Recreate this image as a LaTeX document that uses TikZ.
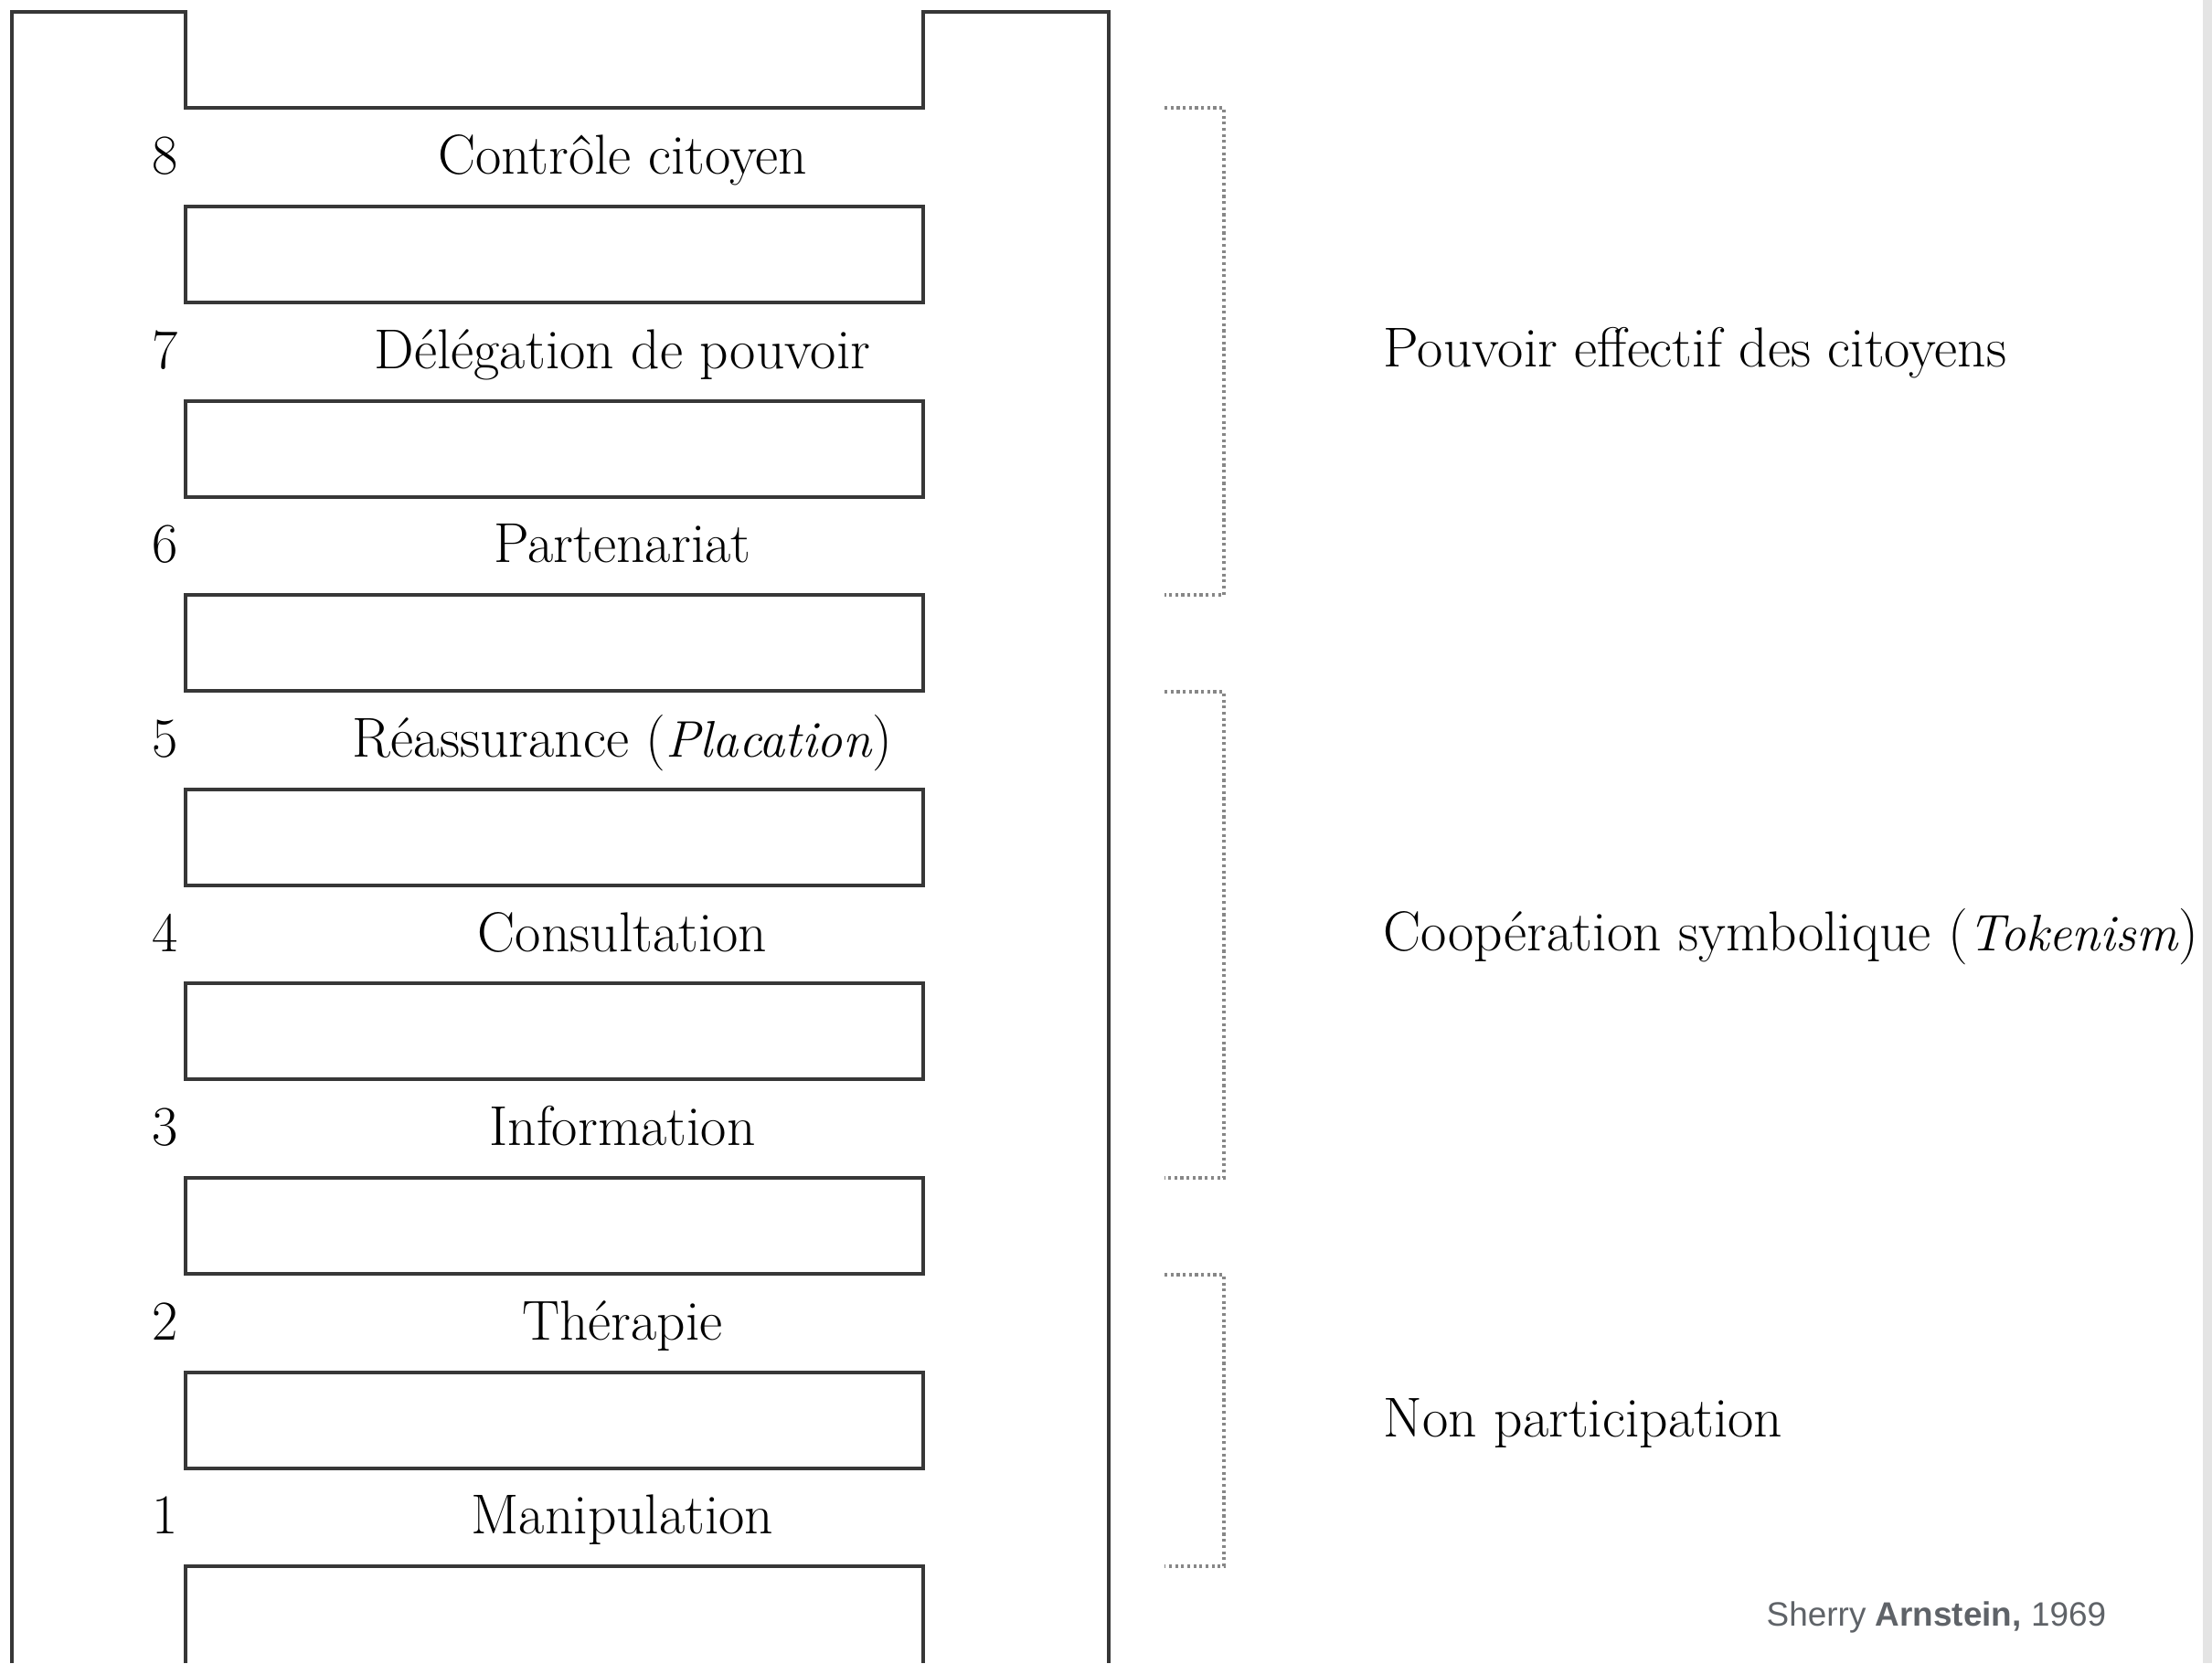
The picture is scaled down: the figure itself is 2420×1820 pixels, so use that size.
\documentclass[tikz,border=0pt]{standalone}
\usepackage{fontspec}
\usepackage{tikz}
\newfontfamily\creditfont{Liberation Sans}
\definecolor{ladderline}{RGB}{55,55,55}
\definecolor{bracketgray}{RGB}{135,135,135}
\definecolor{creditgray}{RGB}{95,99,104}
\definecolor{edgegray}{RGB}{228,228,228}
\newcommand{\latin}[1]{{\fontsize{16}{20}\selectfont\textit{#1}}}

\begin{document}
\begin{tikzpicture}[x=0.01cm, y=-0.01cm,
    ladder/.style={draw=ladderline, line width=1pt},
    rung/.style={draw=ladderline, line width=1.1pt},
    rungnum/.style={anchor=base, font=\fontsize{17.5}{20}\selectfont},
    level/.style={anchor=base, font=\fontsize{17.5}{20}\selectfont},
    group/.style={anchor=base west, inner sep=0pt, font=\fontsize{17.5}{20}\selectfont},
    brace/.style={draw=bracketgray, line width=0.9pt, densely dotted}
]
    \useasboundingbox (0,0) rectangle (2420,1820);
    \fill[edgegray] (2410,0) rectangle (2420,1820);

    % frame of the ladder, open at the bottom
    \draw[ladder] (13,1820) -- (13,13) -- (203,13) -- (203,118) -- (1010,118)
        -- (1010,13) -- (1213,13) -- (1213,1820);

    % rungs
    \draw[rung] (203,226) rectangle (1010,331);
    \draw[rung] (203,439) rectangle (1010,544);
    \draw[rung] (203,651) rectangle (1010,756);
    \draw[rung] (203,864) rectangle (1010,969);
    \draw[rung] (203,1076) rectangle (1010,1181);
    \draw[rung] (203,1289) rectangle (1010,1394);
    \draw[rung] (203,1502) rectangle (1010,1607);
    \draw[rung] (203,1820) -- (203,1714) -- (1010,1714) -- (1010,1820);

    % levels
    \node[rungnum] (n8) at (181,190) {8};
    \node[level] (controle) at (681,190) {Contrôle citoyen};
    \node[rungnum] (n7) at (181,403) {7};
    \node[level] (delegation) at (681,403) {Délégation de pouvoir};
    \node[rungnum] (n6) at (181,615) {6};
    \node[level] (partenariat) at (681,615) {Partenariat};
    \node[rungnum] (n5) at (181,828) {5};
    \node[level] (reassurance) at (681,828) {Réassurance (\latin{Placation})};
    \node[rungnum] (n4) at (181,1041) {4};
    \node[level] (consultation) at (681,1041) {Consultation};
    \node[rungnum] (n3) at (181,1253) {3};
    \node[level] (information) at (681,1253) {Information};
    \node[rungnum] (n2) at (181,1466) {2};
    \node[level] (therapie) at (681,1466) {Thérapie};
    \node[rungnum] (n1) at (181,1678) {1};
    \node[level] (manipulation) at (681,1678) {Manipulation};

    % groups
    \draw[brace] (1274,118) -- (1339,118) -- (1339,651) -- (1274,651);
    \draw[brace] (1274,757) -- (1339,757) -- (1339,1289) -- (1274,1289);
    \draw[brace] (1274,1395) -- (1339,1395) -- (1339,1714) -- (1274,1714);

    \node[group] (pouvoir) at (1513,401) {Pouvoir effectif des citoyens};
    \node[group] (tokenism) at (1513,1040) {Coopération symbolique (\latin{Tokenism})};
    \node[group] (nonpart) at (1513,1572) {Non participation};

    \node[anchor=base west, text=creditgray, font=\creditfont\fontsize{10.5}{12}\selectfont,
        inner sep=0pt] (credit) at (1932,1779) {Sherry \textbf{Arnstein,} 1969};
\end{tikzpicture}
\end{document}
